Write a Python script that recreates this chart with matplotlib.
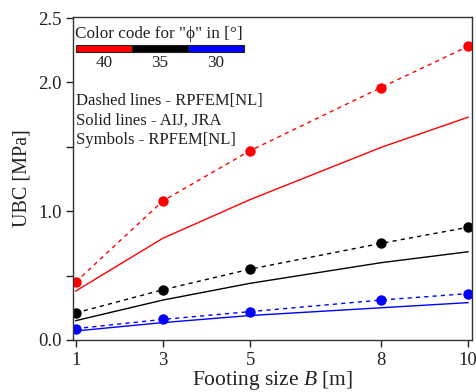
import matplotlib
matplotlib.use("Agg")
import matplotlib.pyplot as plt
from matplotlib.patches import Rectangle

B = [1, 3, 5, 8, 10]
red_dashed = [0.45, 1.08, 1.47, 1.96, 2.28]
red_solid = [0.38, 0.79, 1.09, 1.495, 1.73]
black_dashed = [0.21, 0.39, 0.55, 0.75, 0.875]
black_solid = [0.15, 0.31, 0.44, 0.60, 0.685]
blue_dashed = [0.088, 0.16, 0.22, 0.31, 0.36]
blue_solid = [0.07, 0.135, 0.19, 0.25, 0.29]
phi_labels = ["40", "35", "30"]
phi_colors = ["#ff0000", "#000000", "#0000ff"]
yticks = [0.0, 0.5, 1.0, 1.5, 2.0, 2.5]
ytick_labels = ["0.0", "", "1.0", "", "2.0", "2.5"]

plt.rcParams['font.family'] = ['Liberation Serif', 'DejaVu Serif']
plt.rcParams['mathtext.fontset'] = 'custom'
plt.rcParams['mathtext.it'] = 'Liberation Serif:italic'
plt.rcParams['mathtext.rm'] = 'Liberation Serif'

fig = plt.figure(figsize=(4.77, 3.92), dpi=100)
ax = fig.add_axes([0.153, 0.1327, 0.8365, 0.8239])

series = [
    (red_dashed, red_solid, phi_colors[0]),
    (black_dashed, black_solid, phi_colors[1]),
    (blue_dashed, blue_solid, phi_colors[2]),
]
for dashed, solid, c in series:
    ax.plot(B, dashed, color=c, lw=1.0, ls=(0, (3, 3)), marker='o', ms=7.5,
            markeredgewidth=0)
    ax.plot(B, solid, color=c, lw=1.0, ls='-')

ax.set_xlim(0.938, 10.09)
ax.set_ylim(0, 2.508)
ax.set_xticks(B)
ax.set_xticklabels([str(b) for b in B])
ax.set_yticks(yticks)
ax.set_yticklabels(ytick_labels)
ax.tick_params(axis='both', direction='out', length=5, width=1, labelsize=13.5,
               colors='#222222')
ax.tick_params(axis='x', pad=4)
ax.tick_params(axis='y', pad=3)
for s in ax.spines.values():
    s.set_linewidth(1.0)
    s.set_color('#333333')

ax.set_xlabel(r"Footing size $\mathit{B}$ [m]", fontsize=15.5, labelpad=0, color='#222222')
ax.set_ylabel("UBC [MPa]", fontsize=14.5, labelpad=5, color='#222222')

# colour code bar
ax.text(0.006, 0.946, 'Color code for "ϕ" in [°]', transform=ax.transAxes,
        fontsize=12.3, ha='left', va='center', color='#222222')
x0 = 0.0075
w = 0.1404
for i, (lab, c) in enumerate(zip(phi_labels, phi_colors)):
    ax.add_patch(Rectangle((x0 + i * w, 0.891), w, 0.0226, transform=ax.transAxes,
                           facecolor=c, edgecolor='#222222', lw=0.8, clip_on=False))
    ax.text(x0 + (i + 0.5) * w, 0.857, lab, transform=ax.transAxes,
            fontsize=12.3, ha='center', va='center', color='#222222')

ax.text(0.008, 0.740, "Dashed lines - RPFEM[NL]", transform=ax.transAxes,
        fontsize=12, ha='left', va='center', color='#222222')
ax.text(0.008, 0.680, "Solid lines - AIJ, JRA", transform=ax.transAxes,
        fontsize=12, ha='left', va='center', color='#222222')
ax.text(0.008, 0.618, "Symbols - RPFEM[NL]", transform=ax.transAxes,
        fontsize=12, ha='left', va='center', color='#222222')

fig.savefig("out.png", dpi=100)
